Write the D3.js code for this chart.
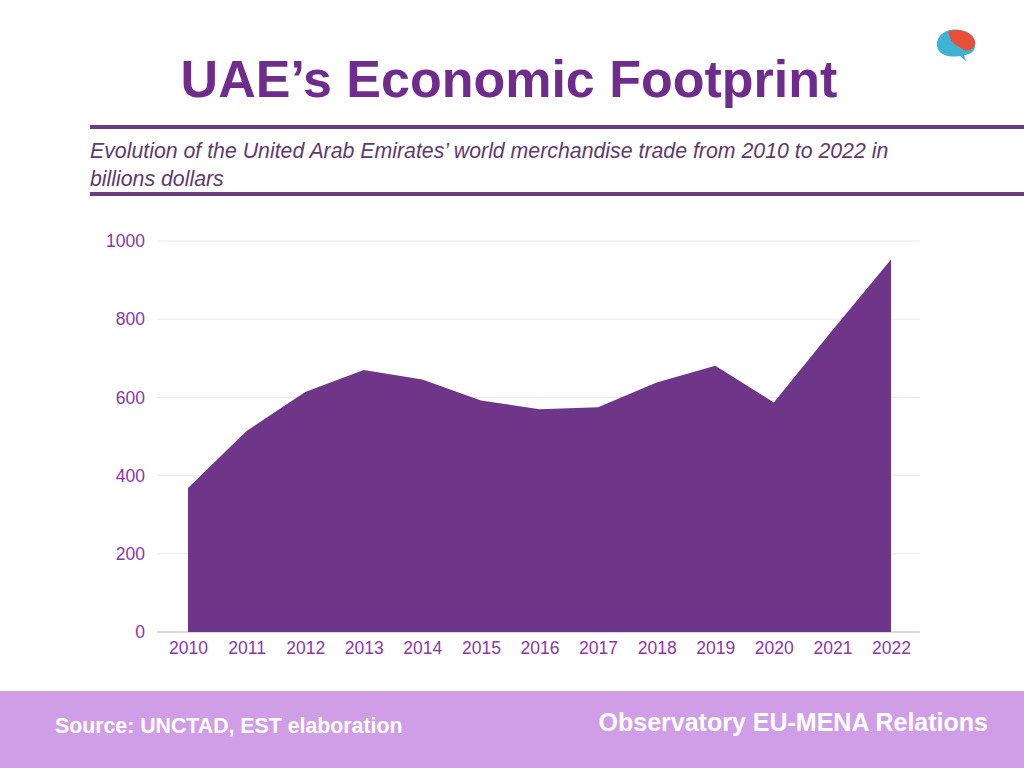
<!DOCTYPE html>
<html><head><meta charset="utf-8">
<script src="https://cdn.jsdelivr.net/npm/d3@7"></script>
<style>body{margin:0;background:#fff}svg{display:block}</style>
</head><body>
<script>
const years = ["2010","2011","2012","2013","2014","2015","2016","2017","2018","2019","2020","2021","2022"];
const tradeValues = [368, 514, 614, 670, 646, 592, 570, 575, 638, 681, 587, 772, 953];
const yTicks = [0, 200, 400, 600, 800, 1000];
const titleText = "UAE\u2019s Economic Footprint";
const subtitleLines = ["Evolution of the United Arab Emirates\u2019 world merchandise trade from 2010 to 2022 in", "billions dollars"];
const sourceText = "Source: UNCTAD, EST elaboration";
const brandText = "Observatory EU-MENA Relations";

const W = 1024, H = 768;
const svg = d3.select("body").append("svg").attr("width", W).attr("height", H);
const font = "'Liberation Sans', Arial, sans-serif";

// Title
svg.append("text").attr("x", 509).attr("y", 97).attr("text-anchor", "middle")
  .attr("font-family", font).attr("font-weight", "bold").attr("font-size", 52)
  .attr("fill", "#6f2c8c").text(titleText);

// Logo (brain-like icon)
const logo = svg.append("g").attr("transform", "translate(956,44)");
logo.append("path").attr("d", "M-19,2 C-20,-10 -8,-16 4,-14 C14,-13 21,-6 19,3 C18,9 12,11 8,11 L10,17 L4,12 C-6,14 -18,11 -19,2 Z").attr("fill", "#3fb3d3");
logo.append("path").attr("d", "M-8,-12 C2,-17 16,-12 19,-3 C20,4 14,8 8,6 C2,2 -4,0 -6,-6 Z").attr("fill", "#e8503a");

// Rules
svg.append("rect").attr("x", 90).attr("y", 125).attr("width", 934).attr("height", 4).attr("fill", "#6b3a80");
svg.append("rect").attr("x", 90).attr("y", 192).attr("width", 934).attr("height", 4).attr("fill", "#6b3a80");

// Subtitle
subtitleLines.forEach((t, i) => {
  svg.append("text").attr("x", 90).attr("y", 158 + i * 28)
    .attr("font-family", font).attr("font-style", "italic").attr("font-size", 21.3)
    .attr("fill", "#5e3a72").text(t);
});

// Scales
const x = d3.scalePoint().domain(years).range([188, 891]);
const y = d3.scaleLinear().domain([0, 1000]).range([632, 241]);

// Gridlines
svg.append("g").selectAll("line").data(yTicks).join("line")
  .attr("x1", 157).attr("x2", 920)
  .attr("y1", d => y(d)).attr("y2", d => y(d))
  .attr("stroke", d => d === 0 ? "#d6c8de" : "#ece4f2").attr("stroke-width", d => d === 0 ? 1.5 : 1);

// Area
const area = d3.area().x((d, i) => x(years[i])).y0(y(0)).y1(d => y(d));
svg.append("path").datum(tradeValues).attr("d", area).attr("fill", "#6e3589");

// Y axis labels
const yAxis = d3.axisLeft(y).tickValues(yTicks).tickSize(0).tickPadding(0).tickFormat(d3.format("d"));
const gy = svg.append("g").attr("transform", "translate(145,0)").call(yAxis);
gy.select(".domain").remove();
gy.selectAll("text").attr("font-family", font).attr("font-size", 17.5).attr("fill", "#8a35b0");

// X axis labels
const xAxis = d3.axisBottom(x).tickSize(0).tickPadding(0);
const gx = svg.append("g").attr("transform", "translate(0,642)").call(xAxis);
gx.select(".domain").remove();
gx.selectAll("text").attr("font-family", font).attr("font-size", 17.5).attr("fill", "#8a35b0");

// Footer
svg.append("rect").attr("x", 0).attr("y", 691).attr("width", W).attr("height", 77).attr("fill", "#d09ee6");
svg.append("text").attr("x", 55).attr("y", 733).attr("font-family", font).attr("font-weight", "bold")
  .attr("font-size", 21.3).attr("fill", "#ffffff").text(sourceText);
svg.append("text").attr("x", 988).attr("y", 731).attr("text-anchor", "end").attr("font-family", font).attr("font-weight", "bold")
  .attr("font-size", 25).attr("fill", "#ffffff").text(brandText);
</script>
</body></html>
